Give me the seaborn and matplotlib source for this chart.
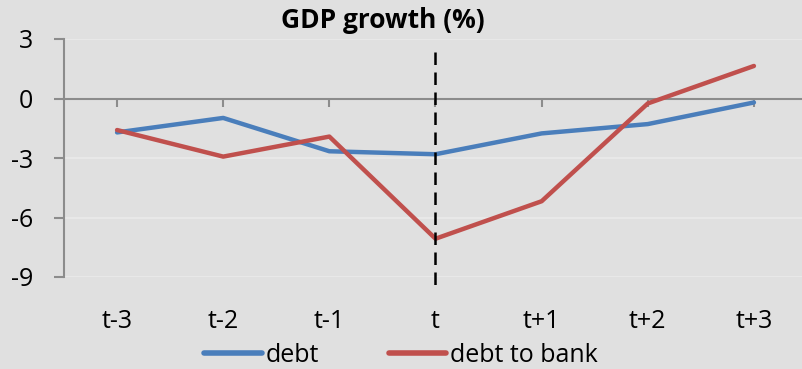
import matplotlib
matplotlib.use("Agg")
import matplotlib.pyplot as plt
import seaborn as sns
import pandas as pd

periods = ["t-3", "t-2", "t-1", "t", "t+1", "t+2", "t+3"]
debt = [-1.71, -0.98, -2.66, -2.81, -1.76, -1.29, -0.20]
debt_to_bank = [-1.59, -2.93, -1.92, -7.07, -5.18, -0.25, 1.64]
series_names = ["debt", "debt to bank"]
y_ticks = [3, 0, -3, -6, -9]
title = "GDP growth (%)"

df = pd.DataFrame({
    "period": periods * 2,
    "value": debt + debt_to_bank,
    "series": [series_names[0]] * len(periods) + [series_names[1]] * len(periods),
})

sns.set_theme(style="white")
plt.rcParams["font.family"] = ["Open Sans", "DejaVu Sans"]
plt.rcParams["text.color"] = "black"

BG = "#E0E0E0"
AX = "#8C8C8C"
FS = 18
fig = plt.figure(figsize=(8.03, 3.69), dpi=100, facecolor=BG)
ax = fig.add_axes([64 / 803, 92 / 369, 743 / 803, 238 / 369])
ax.set_facecolor(BG)

for yv in y_ticks:
    if yv != 0:
        ax.axhline(yv, color="#E8E8E8", lw=1.5, zorder=0)

palette = {"debt": "#4A7EBB", "debt to bank": "#C0504D"}
sns.lineplot(data=df, x="period", y="value", hue="series", palette=palette,
             sort=False, lw=3.2, ax=ax, legend=True, zorder=3)
for ln in ax.lines:
    ln.set_solid_capstyle("round")

ax.set_ylim(-9, 3)
ax.set_xlim(-0.5, len(periods) - 0.5)
ax.set_yticks(y_ticks)
ax.set_yticklabels([str(v) for v in y_ticks], fontsize=FS, color="black")
ax.tick_params(axis="y", direction="out", length=7.2, width=1.5, color=AX, pad=15, left=True)
ax.set_xticks(range(len(periods)))
ax.set_xticklabels(periods, fontsize=FS, color="black")
ax.tick_params(axis="x", length=0, pad=23)
ax.set_xlabel("")
ax.set_ylabel("")
for s in ["top", "right", "bottom"]:
    ax.spines[s].set_visible(False)
ax.spines["left"].set_color(AX)
ax.spines["left"].set_linewidth(1.5)

# zero axis with tick marks
sec = ax.secondary_xaxis(0.75)
sec.set_alignment("bottom")
sec.set_xticks(range(len(periods)))
sec.tick_params(axis="x", direction="out", length=6, width=1.5, color=AX,
                labelbottom=False, labeltop=False, top=False, bottom=True)
sec.spines["bottom"].set_color(AX)
sec.spines["bottom"].set_linewidth(1.5)
sec.spines["top"].set_visible(False)

# event line
ax.plot([periods[3], periods[3]], [2.35, -9.4], color="black", lw=1.8,
        dashes=(5, 3), clip_on=False, zorder=4)

ax.get_legend().remove()
handles = [plt.Line2D([], [], color=palette[n], lw=4, solid_capstyle="round") for n in series_names]
fig.legend(handles, series_names, loc="center", bbox_to_anchor=(401 / 803, 14 / 369),
           ncol=2, frameon=False, fontsize=FS, handlelength=2.3, handletextpad=0.15,
           columnspacing=2.8, borderpad=0, borderaxespad=0, labelcolor="black")

fig.text(383 / 803, 349 / 369, title, ha="center", va="center", fontsize=19,
         fontweight="bold", color="black")

fig.savefig("out.png", dpi=100, facecolor=BG)
